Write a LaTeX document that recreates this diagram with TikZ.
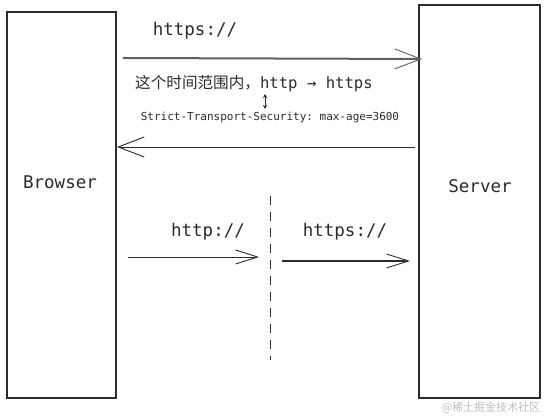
\documentclass[tikz,border=0pt]{standalone}
\usepackage{fontspec}
\setmonofont{DejaVu Sans Mono}
\newfontfamily\cjk{Noto Sans CJK SC}
\usetikzlibrary{arrows.meta}
\definecolor{ink}{HTML}{2B2B2B}
\tikzset{
  box/.style={draw=ink, line width=1.1pt, fill=white},
  lbl/.style={font=\ttfamily\fontsize{17.5}{20}\selectfont, text=ink, inner sep=0pt},
  msg/.style={draw=ink, line width=0.9pt, -{Straight Barb[length=26pt, width=20pt, line width=0.9pt]}},
  msgs/.style={draw=ink, line width=0.9pt, -{Straight Barb[length=22pt, width=14pt, line width=0.9pt]}},
}
\begin{document}
\begin{tikzpicture}[x=1pt, y=-1pt]
\useasboundingbox (0,0) rectangle (547,419);
% boxes
\node[box, minimum width=109pt, minimum height=386pt] (browser) at (61.5,205) {};
\node[box, minimum width=121pt, minimum height=393pt] (server) at (479.5,201.5) {};
\node[lbl] (bl) at (60,182) {Browser};
\node[lbl] (sl) at (480,186) {Server};
% endpoints
\coordinate (a1) at (123,58);
\coordinate (a2) at (422,59);
\coordinate (b1) at (415,147);
\coordinate (b2) at (117,147);
\coordinate (c1) at (128,257);
\coordinate (c2) at (259,257);
\coordinate (d1) at (282,261);
\coordinate (d2) at (410,261);
\coordinate (e1) at (270,196);
\coordinate (e2) at (270,360);
\coordinate (f1) at (265,94);
\coordinate (f2) at (265,109);
% labels
\node[lbl] (t1) at (195,31) {https://};
\node[inner sep=0pt, text=ink, font=\fontsize{15.6}{18}\selectfont] (t2) at (254,84) {{\cjk 这个时间范围内，}{\ttfamily http → https}};
\node[inner sep=0pt, text=ink, font=\ttfamily\fontsize{11}{13}\selectfont] (t3) at (270,118) {Strict-Transport-Security: max-age=3600};
\node[lbl] (t4) at (208,232) {http://};
\node[lbl] (t5) at (345,232) {https://};
\node[inner sep=0pt, text=black!25, font=\cjk\fontsize{11}{13}\selectfont] (wm) at (491,408) {@稀土掘金技术社区};
% connectors
\draw[msg, line width=2pt, draw=ink!75] (a1) -- (a2);
\draw[msg] (b1) -- (b2);
\draw[msgs] (c1) -- (c2);
\draw[msgs, line width=1.4pt] (d1) -- (d2);
\draw[ink, line width=0.9pt, dash pattern=on 9pt off 7pt] (e1) -- (e2);
\draw[ink, line width=0.7pt, {Stealth[length=4pt,width=4pt]}-{Stealth[length=4pt,width=4pt]}] (f1) -- (f2);
\end{tikzpicture}
\end{document}
